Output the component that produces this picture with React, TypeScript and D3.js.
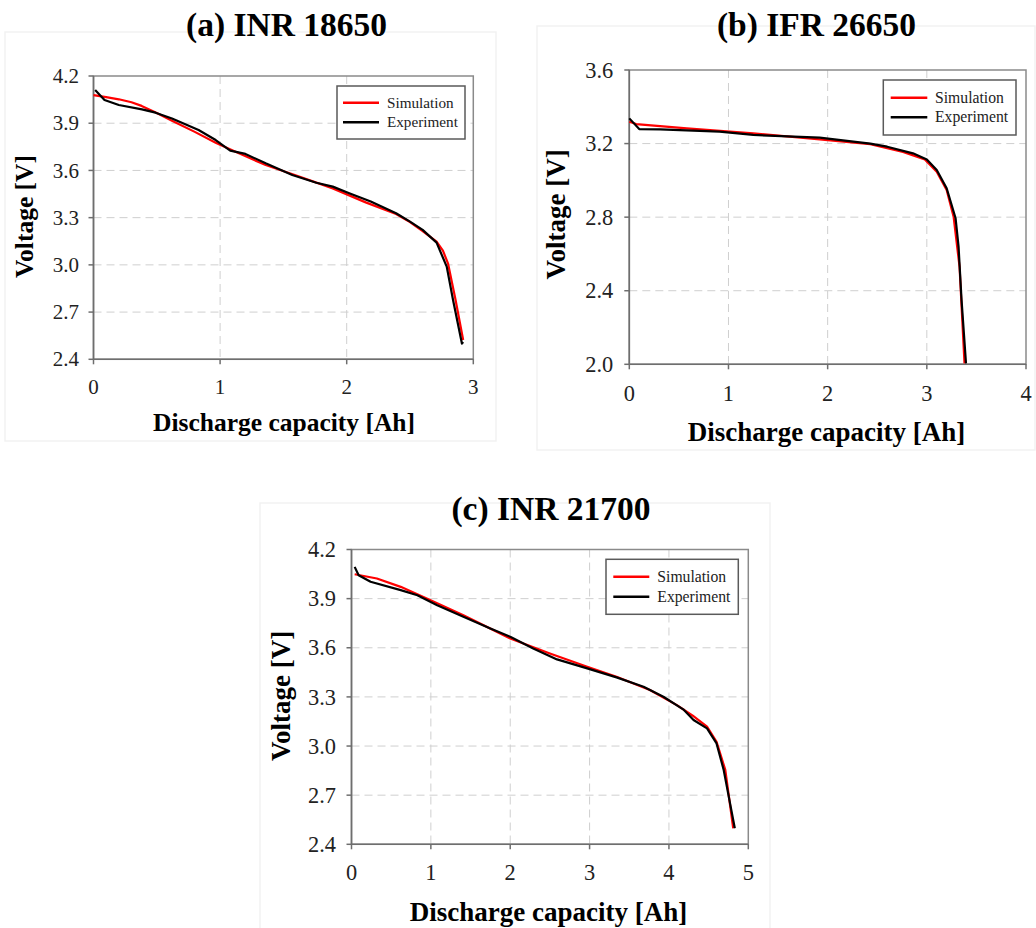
import React from "react";
import * as d3 from "d3";

// ---------- Data ----------
// (a) INR 18650
const aSimCap = [0, 0.1, 0.2, 0.3, 0.38, 0.5, 0.62, 0.8, 0.965, 1.1, 1.36, 1.63, 1.89, 2.15, 2.39, 2.5, 2.6, 2.71, 2.76, 2.8, 2.86, 2.92];
const aSimV = [4.079, 4.066, 4.052, 4.033, 4.01, 3.965, 3.916, 3.845, 3.776, 3.726, 3.634, 3.56, 3.486, 3.397, 3.323, 3.272, 3.215, 3.147, 3.09, 3.01, 2.777, 2.523];
const aExpCap = [0.013, 0.087, 0.2, 0.383, 0.49, 0.62, 0.83, 0.965, 1.08, 1.2, 1.36, 1.57, 1.76, 1.89, 2.02, 2.19, 2.39, 2.5, 2.6, 2.71, 2.79, 2.84, 2.91, 2.92];
const aExpV = [4.111, 4.048, 4.016, 3.988, 3.967, 3.93, 3.857, 3.793, 3.726, 3.705, 3.645, 3.571, 3.522, 3.497, 3.455, 3.402, 3.328, 3.275, 3.222, 3.141, 2.989, 2.777, 2.5, 2.51];

// (b) IFR 26650
const bSimCap = [0, 0.07, 0.58, 1.25, 1.92, 2.43, 2.76, 2.98, 3.1, 3.2, 3.27, 3.33, 3.38];
const bSimV = [3.319, 3.306, 3.283, 3.256, 3.223, 3.197, 3.155, 3.114, 3.047, 2.948, 2.803, 2.53, 2.005];
const bExpCap = [0, 0.1, 0.31, 0.91, 1.25, 1.92, 2.43, 2.6, 2.86, 3.0, 3.1, 3.2, 3.29, 3.32, 3.35, 3.395];
const bExpV = [3.337, 3.279, 3.277, 3.265, 3.247, 3.232, 3.2, 3.183, 3.147, 3.114, 3.056, 2.957, 2.794, 2.64, 2.35, 2.005];

// (c) INR 21700
const cSimCap = [0.04, 0.32, 0.62, 0.99, 1.41, 2.0, 2.5, 2.97, 3.34, 3.76, 4.1, 4.3, 4.48, 4.6, 4.71, 4.81];
const cSimV = [4.049, 4.023, 3.972, 3.891, 3.799, 3.657, 3.565, 3.484, 3.423, 3.342, 3.25, 3.185, 3.118, 3.026, 2.854, 2.498];
const cExpCap = [0.04, 0.09, 0.24, 0.62, 0.83, 1.08, 1.41, 1.75, 2.0, 2.29, 2.59, 2.97, 3.34, 3.68, 3.93, 4.18, 4.31, 4.48, 4.6, 4.69, 4.77, 4.83];
const cExpV = [4.094, 4.043, 4.003, 3.952, 3.921, 3.86, 3.789, 3.718, 3.667, 3.596, 3.529, 3.474, 3.419, 3.362, 3.301, 3.224, 3.159, 3.108, 3.016, 2.854, 2.65, 2.498];

// Tick labels
const aXTicks = [0, 1, 2, 3];
const aYTicks = [2.4, 2.7, 3.0, 3.3, 3.6, 3.9, 4.2];
const bXTicks = [0, 1, 2, 3, 4];
const bYTicks = [2.0, 2.4, 2.8, 3.2, 3.6];
const cXTicks = [0, 1, 2, 3, 4, 5];
const cYTicks = [2.4, 2.7, 3.0, 3.3, 3.6, 3.9, 4.2];

const titles = ["(a) INR 18650", "(b) IFR 26650", "(c) INR 21700"];
const seriesNames = ["Simulation", "Experiment"];
const xLabel = "Discharge capacity [Ah]";
const yLabel = "Voltage [V]";

const FONT = "'Liberation Serif', 'Times New Roman', serif";

type Layout = {
  left: number; right: number; top: number; bottom: number;
  titleX: number; titleY: number;
  yLabX: number; yLabY: number;
  xLabX: number; xLabY: number;
  xTickY: number; yTickGap: number; tickFont: number; labFont: number;
  leg: { x0: number; x1: number; y0: number; y1: number; lx0: number; lx1: number; ly1: number; ly2: number; tx: number; font: number };
  bg: { x0: number; x1: number; y0: number; y1: number };
};

type PanelProps = {
  title: string;
  xDomain: [number, number];
  yDomain: [number, number];
  xTicks: number[];
  yTicks: number[];
  simCap: number[]; simV: number[];
  expCap: number[]; expV: number[];
  L: Layout;
};

function Panel({ title, xDomain, yDomain, xTicks, yTicks, simCap, simV, expCap, expV, L }: PanelProps) {
  const x = d3.scaleLinear().domain(xDomain).range([L.left, L.right]);
  const y = d3.scaleLinear().domain(yDomain).range([L.bottom, L.top]);
  const sim = simCap.map((c, i) => [c, simV[i]] as [number, number]);
  const exp = expCap.map((c, i) => [c, expV[i]] as [number, number]);
  const line = d3.line<[number, number]>().x(d => x(d[0])).y(d => y(d[1])).curve(d3.curveLinear);
  const fmtY = d3.format(".1f");
  const axisColor = "#6e6e6e";
  return (
    <g>
      <rect x={L.bg.x0} y={L.bg.y0} width={L.bg.x1 - L.bg.x0} height={L.bg.y1 - L.bg.y0} fill="none" stroke="#f2f2f2" strokeWidth={1.5} />
      <text x={L.titleX} y={L.titleY} textAnchor="middle" fontFamily={FONT} fontWeight="bold" fontSize={33.5} fill="#000">{title}</text>
      {/* grid */}
      {xTicks.slice(1, -1).map(t => (
        <line key={"gx" + t} x1={x(t)} x2={x(t)} y1={L.top} y2={L.bottom} stroke="#cfcfcf" strokeWidth={1} strokeDasharray="8,5" />
      ))}
      {yTicks.slice(1, -1).map(t => (
        <line key={"gy" + t} x1={L.left} x2={L.right} y1={y(t)} y2={y(t)} stroke="#cfcfcf" strokeWidth={1} strokeDasharray="8,5" />
      ))}
      {/* frame */}
      <rect x={L.left} y={L.top} width={L.right - L.left} height={L.bottom - L.top} fill="none" stroke="#8a8a8a" strokeWidth={1.5} />
      <line x1={L.left} x2={L.left} y1={L.top} y2={L.bottom} stroke={axisColor} strokeWidth={1.6} />
      <line x1={L.left} x2={L.right} y1={L.bottom} y2={L.bottom} stroke={axisColor} strokeWidth={1.6} />
      {/* ticks */}
      {yTicks.map(t => (
        <g key={"yt" + t}>
          <line x1={L.left - 5} x2={L.left} y1={y(t)} y2={y(t)} stroke={axisColor} strokeWidth={1.5} />
          <text x={L.left - L.yTickGap} y={y(t)} dy="0.34em" textAnchor="end" fontFamily={FONT} fontSize={L.tickFont} fill="#222">{fmtY(t)}</text>
        </g>
      ))}
      {xTicks.map(t => (
        <g key={"xt" + t}>
          <line x1={x(t)} x2={x(t)} y1={L.bottom} y2={L.bottom + 5} stroke={axisColor} strokeWidth={1.5} />
          <text x={x(t)} y={L.xTickY} textAnchor="middle" fontFamily={FONT} fontSize={L.tickFont} fill="#222">{t}</text>
        </g>
      ))}
      {/* series */}
      <path d={line(sim) || ""} fill="none" stroke="#ff0000" strokeWidth={2.2} strokeLinejoin="round" />
      <path d={line(exp) || ""} fill="none" stroke="#000" strokeWidth={2.2} strokeLinejoin="round" />
      {/* axis labels */}
      <text x={L.xLabX} y={L.xLabY} textAnchor="middle" fontFamily={FONT} fontWeight="bold" fontSize={L.labFont} fill="#000">{xLabel}</text>
      <text transform={`translate(${L.yLabX},${L.yLabY}) rotate(-90)`} textAnchor="middle" fontFamily={FONT} fontWeight="bold" fontSize={L.labFont} fill="#000">{yLabel}</text>
      {/* legend */}
      <rect x={L.leg.x0} y={L.leg.y0} width={L.leg.x1 - L.leg.x0} height={L.leg.y1 - L.leg.y0} fill="#fff" stroke="#5a5a5a" strokeWidth={1.5} />
      <line x1={L.leg.lx0} x2={L.leg.lx1} y1={L.leg.ly1} y2={L.leg.ly1} stroke="#ff0000" strokeWidth={2.5} />
      <line x1={L.leg.lx0} x2={L.leg.lx1} y1={L.leg.ly2} y2={L.leg.ly2} stroke="#000" strokeWidth={2.5} />
      <text x={L.leg.tx} y={L.leg.ly1} dy="0.33em" fontFamily={FONT} fontSize={L.leg.font} fill="#222">{seriesNames[0]}</text>
      <text x={L.leg.tx} y={L.leg.ly2} dy="0.33em" fontFamily={FONT} fontSize={L.leg.font} fill="#222">{seriesNames[1]}</text>
    </g>
  );
}

const layoutA: Layout = {
  left: 93.5, right: 473.3, top: 76, bottom: 359.3,
  titleX: 286.5, titleY: 36,
  yLabX: 33, yLabY: 216.5, xLabX: 284, xLabY: 431,
  xTickY: 394, yTickGap: 14.5, tickFont: 21, labFont: 25.5,
  leg: { x0: 337, x1: 465, y0: 86, y1: 139, lx0: 343, lx1: 379, ly1: 102.7, ly2: 122.3, tx: 387, font: 15.2 },
  bg: { x0: 5, x1: 496, y0: 32, y1: 441 },
};
const layoutB: Layout = {
  left: 629.3, right: 1026, top: 70, bottom: 364.3,
  titleX: 816.5, titleY: 36,
  yLabX: 565, yLabY: 214.5, xLabX: 826.5, xLabY: 441,
  xTickY: 401, yTickGap: 16, tickFont: 22.4, labFont: 27,
  leg: { x0: 883.3, x1: 1016, y0: 80, y1: 135, lx0: 890.7, lx1: 927.3, ly1: 97.7, ly2: 117.3, tx: 935, font: 15.7 },
  bg: { x0: 537, x1: 1035, y0: 26, y1: 450 },
};
const layoutC: Layout = {
  left: 351.5, right: 748.3, top: 549.5, bottom: 844.3,
  titleX: 551, titleY: 520,
  yLabX: 290, yLabY: 696, xLabX: 548.5, xLabY: 921,
  xTickY: 880, yTickGap: 15.5, tickFont: 22.4, labFont: 27,
  leg: { x0: 606, x1: 738.3, y0: 559.3, y1: 614.3, lx0: 613.3, lx1: 649.3, ly1: 576.7, ly2: 596.7, tx: 657.3, font: 15.7 },
  bg: { x0: 260, x1: 770, y0: 503, y1: 930 },
};

export default function App() {
  return (
    <svg width={1036} height={928} viewBox="0 0 1036 928" style={{ position: "absolute", left: 0, top: 0, background: "#fff" }}>
      <rect x={0} y={0} width={1036} height={928} fill="#fff" />
      <Panel title={titles[0]} xDomain={[0, 3]} yDomain={[2.4, 4.2]} xTicks={aXTicks} yTicks={aYTicks}
        simCap={aSimCap} simV={aSimV} expCap={aExpCap} expV={aExpV} L={layoutA} />
      <Panel title={titles[1]} xDomain={[0, 4]} yDomain={[2.0, 3.6]} xTicks={bXTicks} yTicks={bYTicks}
        simCap={bSimCap} simV={bSimV} expCap={bExpCap} expV={bExpV} L={layoutB} />
      <Panel title={titles[2]} xDomain={[0, 5]} yDomain={[2.4, 4.2]} xTicks={cXTicks} yTicks={cYTicks}
        simCap={cSimCap} simV={cSimV} expCap={cExpCap} expV={cExpV} L={layoutC} />
    </svg>
  );
}
